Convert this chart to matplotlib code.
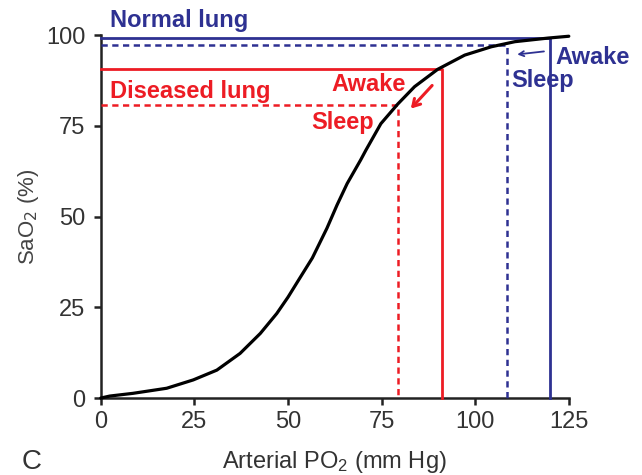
import matplotlib
matplotlib.use("Agg")
import matplotlib.pyplot as plt

plt.rcParams['font.family'] = ['Liberation Sans', 'DejaVu Sans']

# oxyhemoglobin dissociation curve
po2 = [0, 2.4, 8.6, 17.6, 24.7, 31, 37.2, 42.6, 47, 50, 53, 56.5, 60.4, 63.1,
       65.8, 69.4, 70.8, 74.8, 79.3, 83.8, 90, 97.2, 104.3, 110.6, 119.5, 125]
sao2 = [0, 0.55, 1.3, 2.7, 5.0, 7.7, 12.3, 17.8, 23.3, 27.8, 32.8, 38.6, 46.8, 53.2,
        59.1, 65.6, 68.3, 75.6, 81.0, 85.8, 90.6, 94.5, 96.8, 98.2, 99.2, 99.7]

# operating points (PO2, SaO2)
normal_awake = (120, 99.3)
normal_sleep = (108.5, 97.2)
diseased_awake = (91, 90.6)
diseased_sleep = (79.4, 80.8)

xticks = [0, 25, 50, 75, 100, 125]
yticks = [0, 25, 50, 75, 100]

blue = '#2e3192'
red = '#ed1c24'

fig = plt.figure(figsize=(6.42, 4.75), dpi=100)
ax = fig.add_axes([0.157, 0.162, 0.729, 0.764])

ax.plot(po2, sao2, color='black', lw=2.3, zorder=5, clip_on=False,
        solid_capstyle='round', solid_joinstyle='round')

# normal lung
ax.plot([0, normal_awake[0], normal_awake[0]], [normal_awake[1], normal_awake[1], 0],
        color=blue, lw=2, clip_on=False, zorder=4)
ax.plot([0, normal_sleep[0], normal_sleep[0]], [normal_sleep[1], normal_sleep[1], 0],
        color=blue, lw=1.8, ls=(0, (2.5, 1.8)), clip_on=False, zorder=4)
# diseased lung
ax.plot([0, diseased_awake[0], diseased_awake[0]], [diseased_awake[1], diseased_awake[1], 0],
        color=red, lw=2, clip_on=False, zorder=4)
ax.plot([0, diseased_sleep[0], diseased_sleep[0]], [diseased_sleep[1], diseased_sleep[1], 0],
        color=red, lw=1.8, ls=(0, (2.5, 1.8)), clip_on=False, zorder=4)

ax.set_xlim(0, 125)
ax.set_ylim(0, 100)
ax.set_xticks(xticks)
ax.set_yticks(yticks)
ax.tick_params(labelsize=17, width=1.8, length=5, colors='#222222', labelcolor='#333333')
ax.tick_params(axis='y', pad=6)
ax.tick_params(axis='x', pad=4)
for s in ['top', 'right']:
    ax.spines[s].set_visible(False)
for s in ['left', 'bottom']:
    ax.spines[s].set_linewidth(1.8)
    ax.spines[s].set_color('#222222')

ax.set_xlabel('Arterial P$\\mathregular{O_2}$ (mm Hg)', fontsize=17, color='#333333', labelpad=12)
ax.set_ylabel('SaO$_2$ (%)', fontsize=16, color='#444444', labelpad=4)
fig.text(0.034, 0.012, 'C', fontsize=20, color='#333333')

# labels
tb = dict(fontsize=17, fontweight='bold', va='center')
ax.text(2.4, 104.1, 'Normal lung', color=blue, ha='left', clip_on=False, **tb)
ax.text(2.4, 84.6, 'Diseased lung', color=red, ha='left', **tb)
ax.text(81.4, 86.5, 'Awake', color=red, ha='right', **tb)
ax.text(64.5, 76.0, 'Sleep', color=red, ha='center', **tb)
ax.text(121.5, 93.9, 'Awake', color=blue, ha='left', clip_on=False, **tb)
ax.text(109.5, 87.6, 'Sleep', color=blue, ha='left', **tb)

ax.annotate('', xy=(82.3, 79.2), xytext=(89, 86.7),
            arrowprops=dict(arrowstyle='->,head_length=0.5,head_width=0.3', color=red, lw=2.2))
ax.annotate('', xy=(110.5, 94.6), xytext=(119.1, 95.6),
            arrowprops=dict(arrowstyle='->,head_length=0.35,head_width=0.18', color=blue, lw=1.3))

fig.savefig('out.png', dpi=100)
